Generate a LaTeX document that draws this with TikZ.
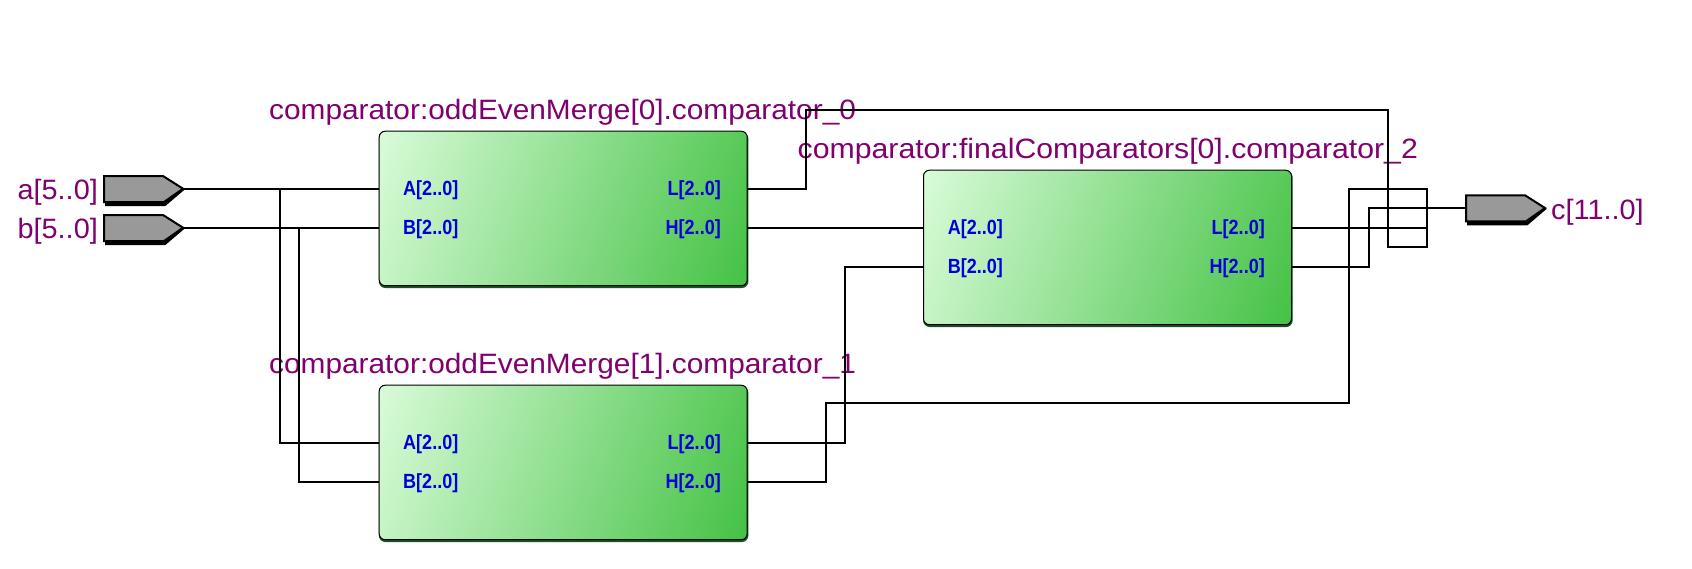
\documentclass[tikz,border=0pt]{standalone}
\usepackage{fontspec}
\setmainfont{Liberation Sans}
\newfontfamily\instfont[FakeStretch=1.065]{Liberation Sans}
\newfontfamily\instwidefont[FakeStretch=1.08]{Liberation Sans}
\newfontfamily\pinfont[FakeStretch=1.03]{Liberation Sans}
\newfontfamily\portfont[FakeStretch=0.88]{Liberation Sans Bold}
\definecolor{lblpurple}{HTML}{800070}
\definecolor{portblue}{HTML}{0000DD}
\definecolor{gradlight}{HTML}{DDFDDD}
\definecolor{graddark}{HTML}{40C040}
\definecolor{pingray}{HTML}{999999}
\definecolor{shadowgreen}{HTML}{1F4F25}
\pgfdeclareverticalshading{blockgrad}{100bp}{color(0bp)=(graddark); color(16bp)=(graddark); color(84bp)=(gradlight); color(100bp)=(gradlight)}
\tikzset{
  wire/.style={line width=2pt,black,line join=miter},
  block/.style={rectangle,rounded corners=6pt,draw=black,line width=1pt,
    minimum width=368pt,minimum height=154.5pt,inner sep=0pt,anchor=north west,
    shade,shading=blockgrad,shading angle=70,
    preaction={draw=shadowgreen,line width=1.6pt,fill=shadowgreen,transform canvas={yshift=-1.6pt,xshift=0.4pt}}},
  instlabel/.style={anchor=base west,inner sep=0pt,text=lblpurple,font=\instfont\fontsize{28}{28}\selectfont},
  instwide/.style={instlabel,font=\instwidefont\fontsize{28}{28}\selectfont},
  pinlabel/.style={inner sep=0pt,text=lblpurple,font=\pinfont\fontsize{28}{28}\selectfont},
  portlabel/.style={inner sep=0pt,text=portblue,font=\portfont\fontsize{20.5}{20.5}\selectfont},
  pinbody/.style={fill=pingray,draw=black,line width=2pt,line join=miter},
  pinshadow/.style={fill=black,draw=black,line width=2pt}
}
\newcommand{\pinshape}[3]{%
  \fill[pinshadow] (#1+2,#2-12.7+3) -- (#1+59,#2-12.7+3) -- (#1+79,#2+1) -- (#1+61,#2+13.3+3) -- (#1+2,#2+13.3+3) -- cycle;
  \draw[pinbody] (#1,#2-12.7) -- (#1+59,#2-12.7) -- (#1+79,#2) -- (#1+60,#2+13.3) -- (#1,#2+13.3) -- cycle;
  \coordinate (#3) at (#1+79,#2);
}
\begin{document}
\begin{tikzpicture}[x=1pt,y=-1pt]
\useasboundingbox[fill=white] (0,0) rectangle (1692,568);
% blocks
\node[block] (u0) at (378.7,130.7) {};
\node[block] (u1) at (378.7,384.7) {};
\node[block] (u2) at (923,169.7) {};
% pins
\pinshape{104}{188.7}{aTip}
\pinshape{104}{227.7}{bTip}
\pinshape{1466}{208}{cTip}
\coordinate (cIn) at (1466,208);
\node[pinlabel,anchor=base east] (alab) at (98,199) {a[5..0]};
\node[pinlabel,anchor=base east] (blab) at (98,238) {b[5..0]};
\node[pinlabel,anchor=base west] (clab) at (1551,219) {c[11..0]};
% instance names
\node[instlabel] (n0) at (269,119) {comparator:oddEvenMerge[0].comparator\_0};
\node[instlabel] (n1) at (269,373.5) {comparator:oddEvenMerge[1].comparator\_1};
\node[instwide] (n2) at (797.5,158) {comparator:finalComparators[0].comparator\_2};
% ports and their labels
\foreach \blk/\yy/\lx/\rx/\ex in {u0/130.7/403/721/378.7,u1/384.7/403/721/378.7,u2/169.7/947.6/1265/923}{
  \coordinate (\blk pA) at (\ex,\yy+58);
  \coordinate (\blk pB) at (\ex,\yy+97);
  \coordinate (\blk pL) at (\ex+368,\yy+58);
  \coordinate (\blk pH) at (\ex+368,\yy+97);
  \node[portlabel,anchor=west] (\blk A) at (\lx,\yy+59.5) {A[2..0]};
  \node[portlabel,anchor=west] (\blk B) at (\lx,\yy+98.5) {B[2..0]};
  \node[portlabel,anchor=east] (\blk L) at (\rx,\yy+59.5) {L[2..0]};
  \node[portlabel,anchor=east] (\blk H) at (\rx,\yy+98.5) {H[2..0]};
}
% connectors
\draw[wire] (aTip) -- (u0pA);
\draw[wire] (bTip) -- (u0pB);
\draw[wire] (280,188.7) -- (280,442.7) -- (u1pA);
\draw[wire] (299,227.7) -- (299,481.7) -- (u1pB);
\draw[wire] (u0pH) -- (u2pA);
\draw[wire] (u1pL) -- (845,442.7) -- (845,266.7) -- (u2pB);
\draw[wire] (u0pL) -- (806,188.7) -- (806,110) -- (1388,110) -- (1388,246.7)
  -- (1427,246.7) -- (1427,189) -- (1349,189) -- (1349,403) -- (825.5,403) -- (825.5,481.7) -- (u1pH);
\draw[wire] (u2pL) -- (1427,227.7);
\draw[wire] (u2pH) -- (1369,266.7) -- (1369,208) -- (cIn);
\end{tikzpicture}
\end{document}
